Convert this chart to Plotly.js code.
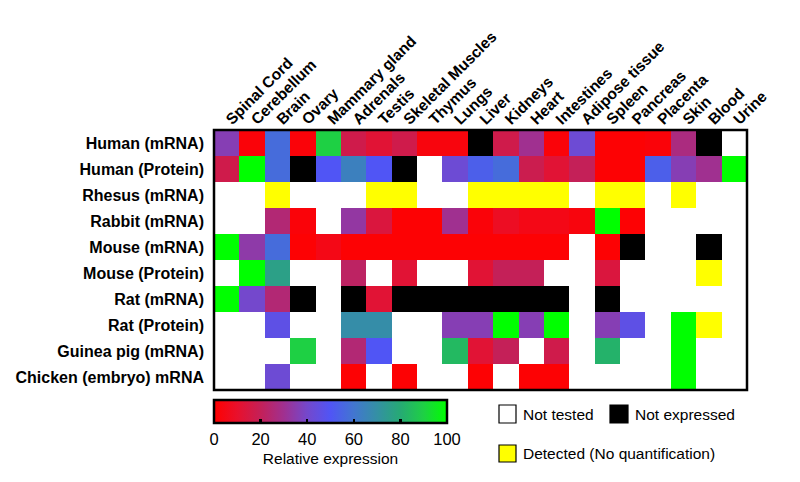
<!DOCTYPE html>
<html>
<head>
<meta charset="utf-8">
<script src="https://cdn.plot.ly/plotly-3.0.1.min.js"></script>
<style>
  html, body { margin: 0; padding: 0; background: #ffffff; }
  #chart { width: 800px; height: 482px; }
</style>
</head>
<body>
<div id="chart"></div>
<script>
// ---- Data ----
// Numbers = relative expression (0-100); NE = not expressed; DET = detected (no quantification); null = not tested
const NE = 'NE';
const DET = 'DET';

const tissues = ['Spinal Cord', 'Cerebellum', 'Brain', 'Ovary', 'Mammary gland', 'Adrenals', 'Testis',
  'Skeletal Muscles', 'Thymus', 'Lungs', 'Liver', 'Kidneys', 'Heart', 'Intestines', 'Adipose tissue',
  'Spleen', 'Pancreas', 'Placenta', 'Skin', 'Blood', 'Urine'];

const species = ['Human (mRNA)', 'Human (Protein)', 'Rhesus (mRNA)', 'Rabbit (mRNA)', 'Mouse (mRNA)',
  'Mouse (Protein)', 'Rat (mRNA)', 'Rat (Protein)', 'Guinea pig (mRNA)', 'Chicken (embryo) mRNA'];

const humanMRNA     = [36, 2, 57, 2, 90, 17, 12, 17, 3, 3, NE, 17, 30, 2, 42, 1, 1, 2, 27, NE, null];
const humanProtein  = [17, 100, 57, NE, 50, 64, 50, NE, null, 42, 53, 57, 18, 12, 20, 1, 1, 53, 36, 30, 100];
const rhesusMRNA    = [null, null, DET, null, null, null, DET, DET, null, null, DET, DET, DET, DET, null, DET, DET, null, DET, null, null];
const rabbitMRNA    = [null, null, 25, 2, null, 33, 14, 1, 1, 30, 2, 8, 5, 5, 3, 100, 1, null, null, null, null];
const mouseMRNA     = [100, 34, 57, 1, 5, 1, 1, 1, 1, 1, 1, 1, 1, 1, null, 1, NE, null, null, NE, null];
const mouseProtein  = [null, 100, 76, null, null, 22, null, 12, null, null, 12, 20, 20, null, null, 14, null, null, null, DET, null];
const ratMRNA       = [100, 40, 25, NE, null, NE, 12, NE, NE, NE, NE, NE, NE, NE, null, NE, null, null, null, null, null];
const ratProtein    = [null, null, 46, null, null, 69, 69, null, null, 36, 36, 100, 36, 100, null, 36, 46, null, 100, DET, null];
const guineaPigMRNA = [null, null, null, 90, null, 25, 50, null, null, 84, 12, 20, null, 17, null, 82, null, null, 100, null, null];
const chickenMRNA   = [null, null, 42, null, null, 1, null, 1, null, null, 1, null, 1, 1, null, null, null, null, 100, null, null];

const colorbarTicks = [0, 20, 40, 60, 80, 100];

// ---- Build matrices ----
const rowsData = [humanMRNA, humanProtein, rhesusMRNA, rabbitMRNA, mouseMRNA,
  mouseProtein, ratMRNA, ratProtein, guineaPigMRNA, chickenMRNA];

const zValues = rowsData.map(r => r.map(v => (typeof v === 'number' ? v : null)));
const zBlack = rowsData.map(r => r.map(v => (v === NE ? 1 : null)));
const zYellow = rowsData.map(r => r.map(v => (v === DET ? 1 : null)));

const FONT = '"Liberation Sans", Arial, Helvetica, sans-serif';

const expressionScale = [
  [0.0, '#ff0000'],
  [0.1, '#e8102c'],
  [0.2, '#c42058'],
  [0.3, '#a03090'],
  [0.4, '#7448cc'],
  [0.5, '#5055f5'],
  [0.6, '#4276d0'],
  [0.7, '#3490a4'],
  [0.8, '#26aa74'],
  [0.9, '#1ed044'],
  [1.0, '#00ff00']
];

// plot area in pixels (for legend placement helpers)
const L = 214, R = 53, T = 130, B = 92, W = 800, H = 482;
const PW = W - L - R, PH = H - T - B;
const px = p => (p - L) / PW;
const py = p => (H - B - p) / PH;

const traces = [
  {
    type: 'heatmap',
    x: tissues, y: species, z: zValues,
    zmin: 0, zmax: 100,
    colorscale: expressionScale,
    hoverongaps: false,
    colorbar: {
      orientation: 'h',
      x: px(214), xanchor: 'left',
      y: py(400), yanchor: 'top',
      len: (447 - 214) / PW, lenmode: 'fraction',
      thickness: 23,
      xpad: 0, ypad: 0,
      outlinewidth: 2.5, outlinecolor: '#000000',
      tickvals: colorbarTicks,
      ticktext: colorbarTicks.map(String),
      ticks: 'inside', ticklen: 5, tickwidth: 2.5, tickcolor: '#000000',
      tickfont: { family: FONT, size: 16.5, color: '#000000' },
      title: { text: 'Relative expression', side: 'bottom', font: { family: FONT, size: 15.5, color: '#000000' } }
    }
  },
  {
    type: 'heatmap',
    x: tissues, y: species, z: zBlack,
    zmin: 0, zmax: 1,
    colorscale: [[0, '#000000'], [1, '#000000']],
    showscale: false, hoverongaps: false
  },
  {
    type: 'heatmap',
    x: tissues, y: species, z: zYellow,
    zmin: 0, zmax: 1,
    colorscale: [[0, '#ffff00'], [1, '#ffff00']],
    showscale: false, hoverongaps: false
  }
];

const layout = {
  width: W, height: H,
  margin: { l: L, r: R, t: T, b: B, autoexpand: false },
  paper_bgcolor: '#ffffff',
  plot_bgcolor: '#ffffff',
  font: { family: FONT, color: '#000000' },
  showlegend: false,
  xaxis: {
    type: 'category',
    categoryorder: 'array', categoryarray: tissues,
    side: 'top',
    tickangle: -45,
    tickfont: { family: FONT, size: 15.5, color: '#000000', weight: 700 },
    ticks: '', ticklabelstandoff: -2, showgrid: false, zeroline: false,
    showline: false, automargin: false, fixedrange: true
  },
  yaxis: {
    type: 'category',
    categoryorder: 'array', categoryarray: species,
    autorange: 'reversed',
    tickfont: { family: FONT, size: 16, color: '#000000', weight: 700 },
    ticks: '', ticklabelstandoff: 9, showgrid: false, zeroline: false, showline: false,
    automargin: false, fixedrange: true
  },
  shapes: [
    { type: 'rect', xref: 'paper', yref: 'paper', x0: 0, x1: 1, y0: 0, y1: 1,
      line: { color: '#000000', width: 2.5 }, fillcolor: 'rgba(0,0,0,0)' },
    { type: 'rect', xref: 'paper', yref: 'paper', x0: px(499), x1: px(516), y0: py(423), y1: py(405),
      line: { color: '#000000', width: 1.2 }, fillcolor: '#ffffff' },
    { type: 'rect', xref: 'paper', yref: 'paper', x0: px(610), x1: px(628), y0: py(423), y1: py(405),
      line: { color: '#000000', width: 1.2 }, fillcolor: '#000000' },
    { type: 'rect', xref: 'paper', yref: 'paper', x0: px(499), x1: px(516), y0: py(462), y1: py(445),
      line: { color: '#000000', width: 1.2 }, fillcolor: '#ffff00' }
  ],
  annotations: [
    { xref: 'paper', yref: 'paper', x: px(521), y: py(414), xanchor: 'left', yanchor: 'middle',
      text: 'Not tested', showarrow: false, font: { family: FONT, size: 15.5, color: '#000000' } },
    { xref: 'paper', yref: 'paper', x: px(633), y: py(414), xanchor: 'left', yanchor: 'middle',
      text: 'Not expressed', showarrow: false, font: { family: FONT, size: 15.5, color: '#000000' } },
    { xref: 'paper', yref: 'paper', x: px(521), y: py(453), xanchor: 'left', yanchor: 'middle',
      text: 'Detected (No quantification)', showarrow: false, font: { family: FONT, size: 15.5, color: '#000000' } }
  ]
};

Plotly.newPlot('chart', traces, layout, { staticPlot: true, displayModeBar: false });
</script>
</body>
</html>
